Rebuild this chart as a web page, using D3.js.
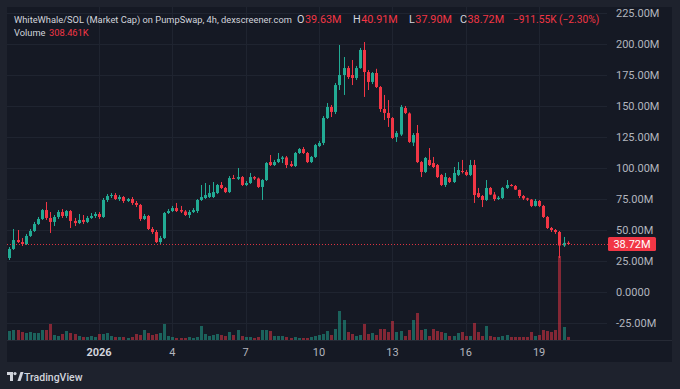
<!DOCTYPE html>
<html><head><meta charset="utf-8">
<script src="https://cdn.jsdelivr.net/npm/d3@7"></script>
<style>html,body{margin:0;padding:0;background:#1e222d;overflow:hidden}</style>
</head><body><svg id="c" width="680" height="389"></svg>
<script>
// ---- data (market cap in millions USD, volume in thousands) ----
const startTime = Date.UTC(2025, 11, 28, 8); // first 4h candle
const stepHours = 4;
const open = [27.4,34.7,41.9,40.3,38.7,45.2,49.2,54.8,58.9,66.1,
59.7,56.5,60.5,64.5,61.3,65.3,57.3,55.6,58.1,56.5,
59.7,61.3,62.9,60.5,74.2,77.4,78.2,75.0,76.6,73.4,
75.0,71.8,70.2,58.9,61.3,50.8,48.4,40.3,43.5,63.7,
65.3,67.7,66.1,64.9,62.1,64.5,65.3,74.2,75.8,76.6,
76.6,79.8,86.3,83.9,80.6,91.9,91.3,92.7,86.3,87.9,
92.7,91.5,84.7,90.3,104.8,102.4,104.8,107.3,108.5,103.2,
101.6,112.1,115.3,112.1,104.8,108.9,117.7,120.2,140.3,149.2,
145.2,166.9,175.0,180.6,175.0,172.6,180.6,195.2,177.4,169.4,
176.6,165.3,147.6,144.4,140.3,125.0,127.0,148.4,144.0,120.5,
128.2,104.8,96.8,106.5,104.0,102.4,94.4,86.3,91.9,88.7,
94.4,97.6,96.8,94.4,102.4,79.8,77.4,74.2,83.9,78.6,
75.0,75.8,83.9,86.3,85.5,82.3,77.4,75.5,74.5,69.4,
73.4,69.4,60.5,51.6,50.0,48.4,37.5,39.63];
const high = [36.3,50.8,50.0,43.5,46.8,50.8,56.5,60.5,66.9,72.6,
64.5,62.1,66.1,66.9,66.1,66.1,59.7,62.9,62.1,61.3,
63.7,64.5,64.5,75.8,79.0,79.8,79.8,78.2,77.4,75.8,
76.6,73.4,71.0,62.9,62.1,52.4,50.0,45.2,64.5,66.9,
69.4,71.8,69.4,66.1,66.1,67.7,75.0,86.3,87.9,86.3,
88.7,87.1,88.7,84.7,93.5,94.4,100.0,93.5,89.5,96.0,
93.5,92.3,91.1,104.8,110.5,106.5,112.1,109.7,109.7,105.6,
112.9,116.1,116.9,112.9,109.7,119.4,121.8,141.9,152.4,150.8,
168.5,199.2,189.5,182.3,187.1,182.3,196.8,201.6,179.0,177.4,
180.0,166.1,158.9,154.8,141.1,129.8,150.8,150.0,144.8,128.2,
134.7,105.6,108.9,116.1,108.9,103.2,95.2,96.0,92.7,100.8,
104.8,106.5,98.4,106.5,106.5,83.9,78.2,90.3,84.7,80.6,
77.4,84.7,90.3,87.1,86.3,82.6,78.2,76.0,75.0,75.0,
74.2,70.2,61.3,52.4,50.8,49.2,44.4,40.91];
const low = [25.8,33.9,39.5,37.1,37.9,44.4,48.4,54.0,58.1,58.1,
47.6,53.2,58.9,59.7,59.7,51.6,53.2,54.8,54.8,55.6,
58.9,59.7,58.9,59.7,72.6,75.8,74.2,73.4,71.8,72.6,
70.2,68.5,57.3,58.1,50.0,46.8,39.5,38.7,42.7,62.9,
64.5,64.5,63.7,61.3,59.7,63.7,63.7,73.4,75.0,75.8,
75.8,79.0,83.1,79.8,79.8,91.1,90.3,85.5,85.5,87.1,
90.3,83.9,74.2,89.5,101.6,101.6,104.0,104.0,100.0,100.8,
100.8,111.3,111.3,104.0,104.0,108.1,116.9,118.5,139.5,141.1,
143.5,162.9,158.9,171.8,166.9,171.0,180.0,157.3,162.9,167.7,
164.5,145.2,138.7,133.1,123.4,121.0,125.8,143.5,120.2,117.7,
104.0,92.7,96.0,101.6,100.0,91.9,85.5,84.7,87.9,87.9,
93.5,95.6,93.5,93.5,71.8,75.8,68.5,73.4,78.2,73.4,
74.2,75.0,83.1,85.1,82.3,75.8,74.2,73.4,68.5,68.9,
68.5,59.7,50.8,48.4,46.8,27.4,36.3,37.90];
const close = [34.7,41.9,40.3,38.7,45.2,49.2,54.8,58.9,66.1,59.7,
56.5,60.5,64.5,61.3,65.3,57.3,55.6,58.1,56.5,59.7,
61.3,62.9,60.5,74.2,77.4,78.2,75.0,76.6,73.4,75.0,
71.8,70.2,58.9,61.3,50.8,48.4,40.3,43.5,63.7,65.3,
67.7,65.3,64.9,62.1,64.5,66.1,74.2,76.6,78.2,79.8,
80.6,86.3,83.9,80.6,91.9,91.3,92.7,86.3,87.9,92.7,
91.5,84.7,90.3,104.0,102.4,104.8,107.3,108.5,102.4,101.6,
112.1,115.3,112.1,104.8,108.9,118.5,120.2,140.3,149.2,145.2,
166.9,175.0,180.6,173.4,172.6,180.6,195.2,177.4,169.4,176.6,
165.3,147.6,144.4,140.3,124.2,128.2,149.2,144.4,121.0,126.6,
104.8,96.8,108.1,102.4,100.8,92.7,86.3,92.7,88.7,96.0,
98.4,96.8,94.4,102.4,78.2,76.6,74.2,83.9,78.6,75.0,
76.0,83.9,86.3,85.5,82.6,77.4,75.5,74.5,69.4,73.4,
69.4,60.5,51.6,50.0,48.4,37.5,39.63,38.72];
const volume = [900,1000,1000,800,700,800,700,700,1000,1000,
1600,500,400,600,900,700,600,400,300,300,
400,300,600,600,700,400,300,300,300,200,
300,600,500,1000,700,500,600,700,1600,400,
300,200,200,200,300,200,300,1400,600,400,
500,600,500,400,800,500,1000,400,300,300,
200,300,1000,1000,900,400,400,400,300,200,
300,200,200,200,300,400,500,600,900,500,
1100,2900,2000,800,600,400,500,1600,600,700,
500,1100,1100,800,1900,800,900,400,1000,2000,
2700,1000,1100,400,1100,900,800,700,400,400,
700,800,400,400,1700,800,400,1400,400,300,
300,400,500,300,300,300,300,300,800,400,
500,1000,900,800,1000,8400,1300,308.461];
const priceTicks = [-25,0,25,50,75,100,125,150,175,200,225];
const priceTickLabels = ["-25.00M","0.0000","25.00M","50.00M","75.00M","100.00M","125.00M","150.00M","175.00M","200.00M","225.00M"];
const timeTicks = [Date.UTC(2026,0,1),Date.UTC(2026,0,4),Date.UTC(2026,0,7),Date.UTC(2026,0,10),Date.UTC(2026,0,13),Date.UTC(2026,0,16),Date.UTC(2026,0,19)];
const timeTickLabels = ["2026","4","7","10","13","16","19"];
const titleText = "WhiteWhale/SOL (Market Cap) on PumpSwap, 4h, dexscreener.com";
const ohlcLabels = ["O","H","L","C"];
const ohlcValues = ["39.63M","40.91M","37.90M","38.72M"];
const changeText = "\u2212911.55K (\u22122.30%)";
const volumeLabel = "Volume";
const volumeValueText = "308.461K";
const lastPriceText = "38.72M";

// ---- layout ----
const UP = "#22ab94", DOWN = "#f23645";
const FONT = "Roboto, 'Liberation Sans', sans-serif";
const svg = d3.select("#c");
const P = {x0:7, y0:7, x1:605, y1:340};
const F = {x0:7, y0:7, x1:672, y1:362};

svg.append("rect").attr("width",680).attr("height",389).attr("fill","#1e222d");
svg.append("rect").attr("x",F.x0).attr("y",F.y0).attr("width",F.x1-F.x0).attr("height",F.y1-F.y0).attr("fill","#151924");

const x = d3.scaleUtc().domain([Date.UTC(2026,0,1), Date.UTC(2026,0,19)]).range([99, 539.1]);
const y = d3.scaleLinear().domain([-25,225]).range([323,13]);
const vy = d3.scaleLinear().domain([0, d3.max(volume)]).range([P.y1, 256]);

const candles = open.map((o,i)=>({t:new Date(startTime + i*stepHours*3600e3), o, h:high[i], l:low[i], c:close[i], v:volume[i]}));

svg.append("defs").append("clipPath").attr("id","clip").append("rect")
  .attr("x",P.x0).attr("y",P.y0).attr("width",P.x1-P.x0).attr("height",P.y1-P.y0);

// grid
const grid = svg.append("g").attr("stroke","#1f2430").attr("stroke-width",1);
grid.selectAll(".h").data(priceTicks).join("line")
  .attr("x1",P.x0).attr("x2",P.x1+2).attr("y1",d=>Math.round(y(d))+0.5).attr("y2",d=>Math.round(y(d))+0.5);
grid.selectAll(".v").data(timeTicks).join("line")
  .attr("y1",P.y0).attr("y2",P.y1).attr("x1",d=>Math.round(x(d))+0.5).attr("x2",d=>Math.round(x(d))+0.5);
svg.append("line").attr("x1",F.x0).attr("x2",F.x1).attr("y1",P.y1+0.5).attr("y2",P.y1+0.5).attr("stroke","#262a35");

const g = svg.append("g").attr("clip-path","url(#clip)");
const bw = 3;
// volume
g.selectAll(".vol").data(candles).join("rect")
  .attr("x",d=>Math.round(x(d.t))-1).attr("width",bw)
  .attr("y",d=>vy(d.v)).attr("height",d=>P.y1-vy(d.v))
  .attr("fill",d=>d.c>=d.o?UP:DOWN).attr("opacity",0.5);
// wicks
g.selectAll(".wick").data(candles).join("line")
  .attr("x1",d=>Math.round(x(d.t))+0.5).attr("x2",d=>Math.round(x(d.t))+0.5)
  .attr("y1",d=>y(d.h)).attr("y2",d=>y(d.l))
  .attr("stroke",d=>d.c>=d.o?UP:DOWN).attr("stroke-width",1);
// bodies
g.selectAll(".body").data(candles).join("rect")
  .attr("x",d=>Math.round(x(d.t))-1).attr("width",bw)
  .attr("y",d=>y(Math.max(d.o,d.c))).attr("height",d=>Math.max(1,Math.abs(y(d.o)-y(d.c))))
  .attr("fill",d=>d.c>=d.o?UP:DOWN);

// last price line
const lastC = close[close.length-1];
const ly = Math.round(y(lastC))+0.5;
svg.append("line").attr("x1",P.x0).attr("x2",608).attr("y1",ly).attr("y2",ly)
  .attr("stroke",DOWN).attr("stroke-width",1).attr("stroke-dasharray","1,2").attr("opacity",0.9);

// price axis labels
svg.append("g").selectAll("text").data(priceTicks).join("text")
  .attr("x",616).attr("y",d=>y(d)).attr("dy","0.36em")
  .attr("font-family",FONT).attr("font-size",11).attr("fill","#b2b5be")
  .text((d,i)=>priceTickLabels[i]);
svg.append("rect").attr("x",608).attr("y",ly-7.5).attr("width",48).attr("height",14).attr("rx",1.5).attr("fill",DOWN);
svg.append("text").attr("x",632).attr("y",ly).attr("dy","0.36em").attr("text-anchor","middle")
  .attr("font-family",FONT).attr("font-size",11).attr("fill","#ffffff").text(lastPriceText);

// time axis labels
svg.append("g").selectAll("text").data(timeTicks).join("text")
  .attr("x",d=>x(d)).attr("y",356).attr("text-anchor","middle")
  .attr("font-family",FONT).attr("font-size",11)
  .attr("font-weight",(d,i)=>i===0?"bold":"normal")
  .attr("fill",(d,i)=>i===0?"#d1d4dc":"#b2b5be")
  .text((d,i)=>timeTickLabels[i]);

// header legend
const TF = 9.3, HF = 10.8;
svg.append("text").attr("x",14).attr("y",23).attr("font-family",FONT).attr("font-size",TF).attr("fill","#d1d4dc")
  .text(titleText);
const ohlcX = [297,353,409,460];
ohlcLabels.forEach((l,i)=>{
  const t = svg.append("text").attr("x",ohlcX[i]).attr("y",23).attr("font-family",FONT).attr("font-size",HF).attr("fill","#d1d4dc");
  t.append("tspan").text(l);
  t.append("tspan").attr("fill",DOWN).attr("dx",0.5).text(ohlcValues[i]);
});
svg.append("text").attr("x",513).attr("y",23).attr("font-family",FONT).attr("font-size",10.2).attr("fill",DOWN)
  .text(changeText);
svg.append("text").attr("x",14).attr("y",36).attr("font-family",FONT).attr("font-size",TF).attr("fill","#d1d4dc")
  .text(volumeLabel);
svg.append("text").attr("x",49).attr("y",36).attr("font-family",FONT).attr("font-size",TF).attr("fill",DOWN)
  .text(volumeValueText);

// TradingView logo
const logo = svg.append("g").attr("transform","translate(7,372)").attr("fill","#d1d4dc");
logo.append("path").attr("d","M0,0 H6 V9 H3 V3 H0 Z");
logo.append("circle").attr("cx",8).attr("cy",1.6).attr("r",1.6);
logo.append("path").attr("d","M10.5,9 L13.5,0 H16.5 L13.5,9 Z");
svg.append("text").attr("x",24).attr("y",380.5).attr("font-family",FONT).attr("font-size",10.5).attr("font-weight",500)
  .attr("fill","#d1d4dc").text("TradingView");
</script></body></html>
